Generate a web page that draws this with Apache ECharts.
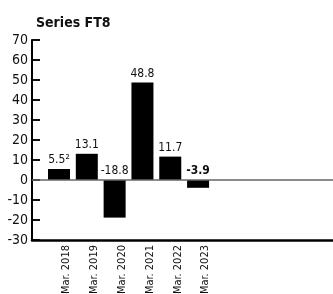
<!DOCTYPE html>
<html>
<head>
<meta charset="utf-8">
<script src="https://cdn.jsdelivr.net/npm/echarts@6/dist/echarts.min.js"></script>
<style>
  html, body { margin: 0; padding: 0; background: #fff; }
  #chart { width: 333px; height: 294px; }
</style>
</head>
<body>
<div id="chart"></div>
<script>
const categories = ['Mar. 2018', 'Mar. 2019', 'Mar. 2020', 'Mar. 2021', 'Mar. 2022', 'Mar. 2023'];
const values = [5.5, 13.1, -18.8, 48.8, 11.7, -3.9];
// label texts as printed above each bar (first one carries a footnote mark, last one is bold)
const valueTexts = ['5.5\u00b2', '13.1', '-18.8', '48.8', '11.7', '{b|-3.9}'];
const yTicks = { min: -30, max: 70, step: 10 };

const FONT = "'DejaVu Sans Condensed', 'DejaVu Sans', sans-serif";
// first bar sits a little less than one slot in from the y axis
const slotOffset = 0.97;

const chart = echarts.init(document.getElementById('chart'), null, { renderer: 'canvas' });

const barData = values.map((v, i) => ({
  value: [i + slotOffset, v],
  label: { formatter: valueTexts[i] }
}));

chart.setOption({
  animation: false,
  title: {
    text: 'Series FT8',
    left: 31,
    top: 11,
    textStyle: { fontFamily: FONT, fontSize: 14, fontWeight: 'bold', color: '#111' }
  },
  grid: [
    { left: 32, right: 0, top: 40, bottom: 54, containLabel: false, outerBoundsMode: 'none' },
    // narrow strip along the y axis: its split lines act as the short inward ticks
    { left: 32, width: 8, top: 40, bottom: 54, containLabel: false, outerBoundsMode: 'none' }
  ],
  xAxis: [{
    type: 'value',
    min: 0,
    max: 10.82,
    splitLine: { show: false },
    axisTick: { show: false },
    axisLine: { show: true, onZero: false, lineStyle: { color: '#000', width: 2.5 } },
    axisLabel: {
      customValues: categories.map((c, i) => i + slotOffset),
      formatter: v => categories[Math.round(v - slotOffset)] || '',
      rotate: 90,
      margin: 5,
      verticalAlign: 'top',
      padding: [2, 0, 0, 0],
      fontFamily: FONT,
      fontSize: 11,
      color: '#111'
    }
  }, {
    gridIndex: 1,
    type: 'value',
    min: 0,
    max: 1,
    show: false
  }],
  yAxis: [{
    type: 'value',
    min: yTicks.min,
    max: yTicks.max,
    interval: yTicks.step,
    splitLine: { show: false },
    axisLine: { show: true, lineStyle: { color: '#000', width: 2 } },
    axisTick: { show: true, inside: true, length: 8, lineStyle: { color: '#000', width: 1.5 } },
    axisLabel: { fontFamily: FONT, fontSize: 14, color: '#111', margin: 4 }
  }, {
    gridIndex: 1,
    type: 'value',
    min: yTicks.min,
    max: yTicks.max,
    interval: yTicks.step,
    axisLine: { show: false },
    axisTick: { show: false },
    axisLabel: { show: false },
    splitLine: { show: true, lineStyle: { color: '#000', width: 1.5, type: 'solid' } }
  }],
  series: [{
    type: 'bar',
    data: barData,
    barWidth: 22,
    itemStyle: { color: '#000' },
    label: {
      show: true,
      position: 'top',
      distance: 3,
      fontFamily: FONT,
      fontSize: 12,
      color: '#111',
      rich: {
        b: { fontFamily: FONT, fontSize: 12, fontWeight: 'bold', color: '#111' }
      }
    },
    markLine: {
      silent: true,
      symbol: 'none',
      label: { show: false },
      lineStyle: { color: '#666', width: 1.5, type: 'solid' },
      data: [{ yAxis: 0 }]
    }
  }]
});
</script>
</body>
</html>
